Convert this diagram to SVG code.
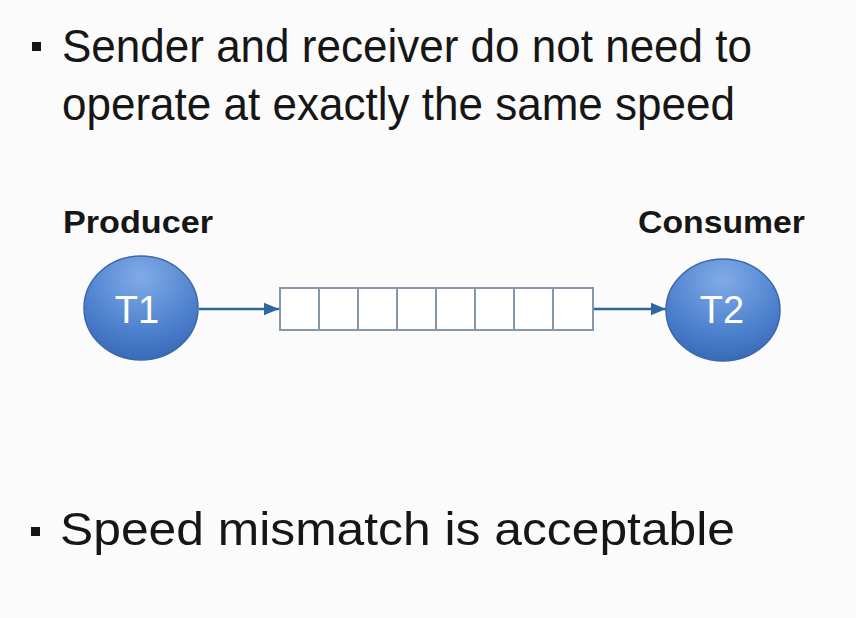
<svg xmlns="http://www.w3.org/2000/svg" width="856" height="618" viewBox="0 0 856 618">
<defs>
<style>
.txt{font-family:"Liberation Sans",Arial,sans-serif;fill:#161616;}
.big{font-size:47px;}
.lbl{font-size:31px;font-weight:bold;}
.tn{font-family:"Liberation Sans",Arial,sans-serif;font-size:38px;fill:#ffffff;text-anchor:middle;}
.node{fill:url(#g);stroke:#3a68a8;stroke-width:1.5;}
.box{fill:#ffffff;stroke:#8497ab;stroke-width:2;}
.conn{stroke:#2f679f;stroke-width:2.5;fill:none;}
</style>
<radialGradient id="g" cx="0.5" cy="0.2" r="0.85">
<stop offset="0" stop-color="#80abe7"/>
<stop offset="0.6" stop-color="#4f82ce"/>
<stop offset="1" stop-color="#3566b4"/>
</radialGradient>
<marker id="ah" viewBox="0 0 12 10" refX="12" refY="5" markerWidth="6" markerHeight="5" orient="auto" markerUnits="strokeWidth">
<path d="M0,0 L12,5 L0,10 z" fill="#2f679f"/>
</marker>
</defs>
<rect width="856" height="618" fill="#fbfbfb"/>
<g id="bullets">
<rect x="32" y="42" width="9" height="9" fill="#161616"/>
<text class="txt big" x="62" y="62" textLength="690" lengthAdjust="spacingAndGlyphs">Sender and receiver do not need to</text>
<text class="txt big" x="62" y="120" textLength="673" lengthAdjust="spacingAndGlyphs">operate at exactly the same speed</text>
<rect x="31" y="527" width="9" height="9" fill="#161616"/>
<text class="txt big" x="60" y="545" textLength="675" lengthAdjust="spacingAndGlyphs">Speed mismatch is acceptable</text>
</g>
<g id="labels">
<text class="txt lbl" x="63" y="233" textLength="150" lengthAdjust="spacingAndGlyphs">Producer</text>
<text class="txt lbl" x="638" y="233" textLength="167" lengthAdjust="spacingAndGlyphs">Consumer</text>
</g>
<g id="connectors">
<line class="conn" x1="199" y1="309" x2="279" y2="309" marker-end="url(#ah)"/>
<line class="conn" x1="593" y1="309" x2="666" y2="309" marker-end="url(#ah)"/>
</g>
<g id="queue">
<rect class="box" x="280" y="288" width="39" height="42"/>
<rect class="box" x="319" y="288" width="39" height="42"/>
<rect class="box" x="358" y="288" width="39" height="42"/>
<rect class="box" x="397" y="288" width="39" height="42"/>
<rect class="box" x="436" y="288" width="39" height="42"/>
<rect class="box" x="475" y="288" width="39" height="42"/>
<rect class="box" x="514" y="288" width="39" height="42"/>
<rect class="box" x="553" y="288" width="40" height="42"/>
</g>
<g id="T1">
<ellipse class="node" cx="141" cy="308" rx="57" ry="52"/>
<text class="tn" x="137" y="323">T1</text>
</g>
<g id="T2">
<ellipse class="node" cx="723" cy="310" rx="57" ry="51"/>
<text class="tn" x="722" y="323">T2</text>
</g>
</svg>
